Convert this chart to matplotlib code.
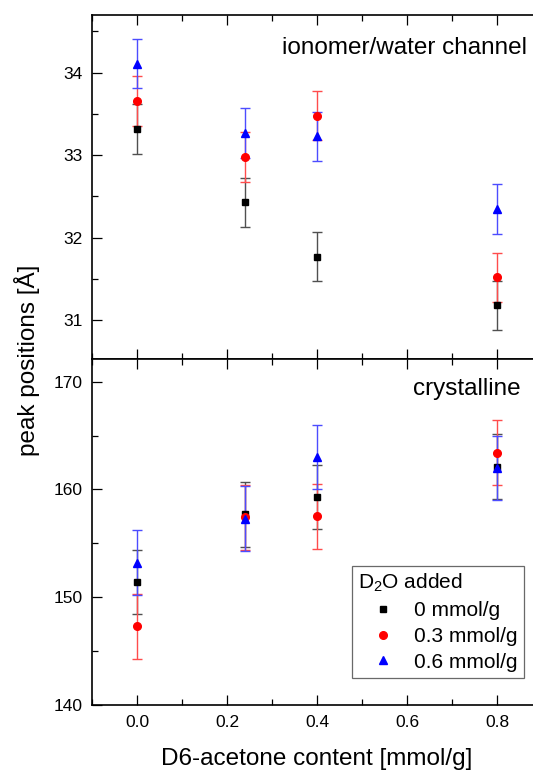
import matplotlib
matplotlib.use('Agg')
import matplotlib.pyplot as plt
from matplotlib.ticker import MultipleLocator

plt.rcParams['font.family'] = ['Liberation Sans', 'DejaVu Sans']
plt.rcParams['mathtext.fontset'] = 'custom'
plt.rcParams['mathtext.rm'] = 'Liberation Sans'
plt.rcParams['mathtext.it'] = 'Liberation Sans:italic'

# data
acetone = [0.0, 0.24, 0.4, 0.8]
labels = ['0 mmol/g', '0.3 mmol/g', '0.6 mmol/g']

chan_0 = [33.32, 32.43, 31.77, 31.18]
chan_03 = [33.66, 32.98, 33.48, 31.52]
chan_06 = [34.11, 33.27, 33.23, 32.35]
chan_err = [0.30, 0.30, 0.30, 0.30]

cryst_0 = [151.4, 157.7, 159.3, 162.1]
cryst_03 = [147.3, 157.4, 157.5, 163.4]
cryst_06 = [153.2, 157.3, 163.0, 162.0]
cryst_err = [3.0, 3.0, 3.0, 3.0]

colors = ['black', 'red', 'blue']
markers = ['s', 'o', '^']
msizes = [4.5, 5.5, 6]
ecolors = ['#505050', '#ff4c4c', '#4c4cff']

fig = plt.figure(figsize=(5.33, 7.70), dpi=100)
ax1 = fig.add_axes([92/533, 411/770, 450/533, 344/770])
ax2 = fig.add_axes([92/533, 65/770, 450/533, 346/770])

def draw(ax, series, err):
    for ys, c, m, ms, ec, lab in zip(series, colors, markers, msizes, ecolors, labels):
        ax.errorbar(acetone, ys, yerr=err, fmt=m, color=c, ms=ms, mec=c,
                    ecolor=ec, elinewidth=1.0, capsize=3.3, capthick=1.0,
                    label=lab)
    ax.set_xlim(-0.1, 0.9)
    ax.xaxis.set_major_locator(MultipleLocator(0.2))
    ax.xaxis.set_minor_locator(MultipleLocator(0.1))
    ax.tick_params(which='both', direction='in', top=True, bottom=True,
                   left=True, right=False, width=0.9, labelsize=12.5)
    ax.tick_params(which='major', length=7, pad=7)
    ax.tick_params(which='minor', length=4)
    ax.spines['right'].set_visible(False)
    for s in ['left', 'top', 'bottom']:
        ax.spines[s].set_linewidth(1.2)

draw(ax1, [chan_0, chan_03, chan_06], chan_err)
ax1.set_ylim(30.53, 34.70)
ax1.yaxis.set_major_locator(MultipleLocator(1))
ax1.yaxis.set_minor_locator(MultipleLocator(0.5))
ax1.tick_params(labelbottom=False)

draw(ax2, [cryst_0, cryst_03, cryst_06], cryst_err)
ax2.set_ylim(140, 172.1)
ax2.yaxis.set_major_locator(MultipleLocator(10))
ax2.yaxis.set_minor_locator(MultipleLocator(5))
ax2.set_xlabel('D6-acetone content [mmol/g]', fontsize=17.5, labelpad=13)

fig.text(527/533, 1 - 48/770, 'ionomer/water channel', fontsize=17.5,
         ha='right', va='center')
fig.text(521/533, 1 - 389/770, 'crystalline', fontsize=17.5,
         ha='right', va='center')
fig.text(27/533, 1 - 360/770, 'peak positions [Å]', fontsize=17.5,
         rotation=90, ha='center', va='center')

handles, labs = ax2.get_legend_handles_labels()
handles = [h[0] for h in handles]
leg = ax2.legend(handles, labs, title='D$_2$O added', fontsize=15,
                 title_fontsize=15, loc='lower left',
                 bbox_to_anchor=((352 - 92)/450, (705 - 678)/346),
                 frameon=True, fancybox=False, edgecolor='#444444',
                 handlelength=2.4, handletextpad=0.3, labelspacing=0.33,
                 borderpad=0.3, alignment='left', borderaxespad=0)
leg.get_frame().set_linewidth(0.9)

fig.savefig('out.png', dpi=100)
